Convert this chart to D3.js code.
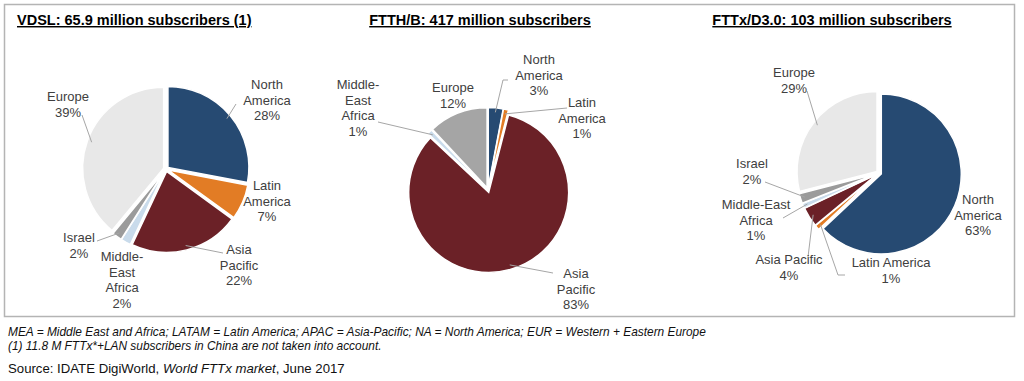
<!DOCTYPE html>
<html>
<head>
<meta charset="utf-8">
<script src="https://cdn.jsdelivr.net/npm/d3@7"></script>
<style>
  body { margin: 0; background: #fff; }
  svg { font-family: Arial, "Liberation Sans", sans-serif; }
  .title { font-size: 14.5px; font-weight: bold; fill: #000; text-decoration: underline; }
  .lbl { font-size: 13px; fill: #404040; }
  .note { font-size: 11.9px; font-style: italic; fill: #111; }
  .src { font-size: 13.2px; fill: #111; }
</style>
</head>
<body>
<svg id="chart" width="1024" height="381"></svg>
<script>
// data (shares in %)
const regions = ['North America', 'Latin America', 'Asia Pacific', 'Middle-East Africa', 'Israel', 'Europe']
const vdslShare = [28, 7, 22, 2, 2, 39]
const ftthShare = [3, 1, 83, 1, 0, 12]
const fttxShare = [63, 1, 4, 1, 2, 29]
const titles = ['VDSL: 65.9 million subscribers (1)', 'FTTH/B: 417 million subscribers', 'FTTx/D3.0: 103 million subscribers']
const notes = [
  'MEA = Middle East and Africa; LATAM = Latin America; APAC = Asia-Pacific; NA = North America; EUR = Western + Eastern Europe',
  '(1) 11.8 M FTTx*+LAN subscribers in China are not taken into account.'
]

const colors = {
  'North America': '#264a72',
  'Latin America': '#e27c25',
  'Asia Pacific': '#6b2127',
  'Middle-East Africa': '#c9dbeb',
  'Israel': '#9b9b9b',
  'Europe': '#e8e8e8'
}

// layout per chart: centre, title position, label lines + where they sit (relative to centre)
const charts = [
  {
    values: vdslShare, cx: 166, cy: 169, r: 81, tx: 17, ty: 25, anchor: 'start',
    labels: {
      'North America': { lines: ['North', 'America'], dx: 101, dy: -80, lead: [[70, -65]] },
      'Latin America': { lines: ['Latin', 'America'], dx: 101, dy: 21 },
      'Asia Pacific': { lines: ['Asia', 'Pacific'], dx: 73, dy: 85, lead: [[57, 84]] },
      'Middle-East Africa': { lines: ['Middle-', 'East', 'Africa'], dx: -44, dy: 92 },
      'Israel': { lines: ['Israel'], dx: -87, dy: 73, lead: [[-69, 72]] },
      'Europe': { lines: ['Europe'], dx: -98, dy: -68, lead: [[-84, -54]] }
    }
  },
  {
    values: ftthShare, cx: 488, cy: 190, r: 80, tx: 480, ty: 25, anchor: 'middle', europe: '#a5a5a5',
    labels: {
      'North America': { lines: ['North', 'America'], dx: 51, dy: -126, lead: [[15, -110], [20, -110]] },
      'Latin America': { lines: ['Latin', 'America'], dx: 94, dy: -83, lead: [[79, -82]] },
      'Asia Pacific': { lines: ['Asia', 'Pacific'], dx: 88, dy: 88, lead: [[65, 83]] },
      'Middle-East Africa': { lines: ['Middle-', 'East', 'Africa'], dx: -130, dy: -101, lead: [[-110, -68]] },
      'Europe': { lines: ['Europe'], dx: -35, dy: -98 }
    }
  },
  {
    values: fttxShare, cx: 879, cy: 173, r: 80, tx: 832, ty: 25, anchor: 'middle',
    labels: {
      'North America': { lines: ['North', 'America'], dx: 99, dy: 31 },
      'Latin America': { lines: ['Latin America'], dx: 12, dy: 94, lead: [[-41, 102], [-34, 102]] },
      'Asia Pacific': { lines: ['Asia Pacific'], dx: -90, dy: 91, lead: [[-71, 84]] },
      'Middle-East Africa': { lines: ['Middle-East', 'Africa'], dx: -123, dy: 36, lead: [[-96, 45]] },
      'Israel': { lines: ['Israel'], dx: -127, dy: -5, lead: [[-114, 9]] },
      'Europe': { lines: ['Europe'], dx: -85, dy: -96, lead: [[-72, -82]] }
    }
  }
]

const svg = d3.select('#chart')

// outer frame
svg.append('rect')
  .attr('x', 4.5).attr('y', 4.5).attr('width', 1010).attr('height', 312)
  .attr('fill', 'none').attr('stroke', '#b4b4b4').attr('stroke-width', 1.5)

const pie = d3.pie().sort(null).value(d => d.v)
const explode = 2.5
const lineH = 15.5

charts.forEach((c, i) => {
  const data = regions.map((name, k) => ({ name, v: c.values[k] })).filter(d => d.v > 0)
  const arcs = pie(data)
  const arc = d3.arc().innerRadius(0).outerRadius(c.r)
  const g = svg.append('g').attr('transform', `translate(${c.cx},${c.cy})`)

  g.selectAll('path.slice')
    .data(arcs)
    .join('path')
    .attr('class', 'slice')
    .attr('transform', d => {
      const a = (d.startAngle + d.endAngle) / 2
      return `translate(${explode * Math.sin(a)},${-explode * Math.cos(a)})`
    })
    .attr('d', arc)
    .attr('fill', d => (d.data.name === 'Europe' && c.europe) ? c.europe : colors[d.data.name])
    .attr('stroke', '#fff')
    .attr('stroke-width', 1.5)

  // leader lines, from the slice rim to the label
  arcs.forEach(d => {
    const lab = c.labels[d.data.name]
    if (!lab || !lab.lead) return
    const a = (d.startAngle + d.endAngle) / 2
    const rr = c.r - 2
    const pts = [[rr * Math.sin(a), -rr * Math.cos(a)]].concat(lab.lead)
    g.append('path')
      .attr('d', d3.line()(pts))
      .attr('fill', 'none')
      .attr('stroke', '#a6a6a6')
      .attr('stroke-width', 1)
  })

  // labels
  arcs.forEach(d => {
    const lab = c.labels[d.data.name]
    if (!lab) return
    const lines = lab.lines.concat([d.data.v + '%'])
    const t = g.append('text')
      .attr('class', 'lbl')
      .attr('text-anchor', 'middle')
      .attr('x', lab.dx)
      .attr('y', lab.dy)
    lines.forEach((s, k) => {
      t.append('tspan').attr('x', lab.dx).attr('dy', k === 0 ? 0 : lineH).text(s)
    })
  })

  svg.append('text')
    .attr('class', 'title')
    .attr('x', c.tx).attr('y', c.ty)
    .attr('text-anchor', c.anchor)
    .text(titles[i])
})

// footnotes
notes.forEach((n, k) => {
  svg.append('text').attr('class', 'note').attr('x', 8).attr('y', 336 + k * 13.5).text(n)
})
const src = svg.append('text').attr('class', 'src').attr('x', 8).attr('y', 373)
src.append('tspan').text('Source: IDATE DigiWorld, ')
src.append('tspan').attr('font-style', 'italic').text('World FTTx market')
src.append('tspan').text(', June 2017')
</script>
</body>
</html>
